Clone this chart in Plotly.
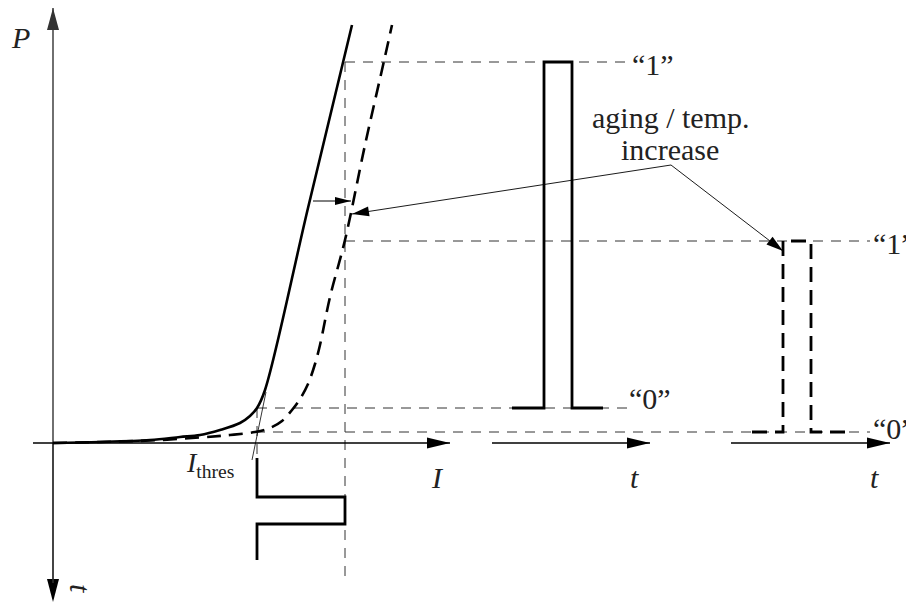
import numpy as np
import plotly.graph_objects as go

# ---- schematic values (1 unit = 1 px, origin at the P/I axis crossing) ----
# static P-I characteristic, new device (solid)
I_new = [0, 47, 97, 127, 147, 167, 187, 197, 204, 212, 255, 299]
P_new = [0, 1, 3, 6, 8, 13, 20, 27, 35, 53, 235, 418]
# P-I characteristic after aging / temperature increase (dashed)
I_aged = [0, 47, 97, 147, 177, 202, 217, 229, 239, 247, 255, 262, 267, 277, 292, 312, 331, 339]
P_aged = [0, 1, 2.5, 5.5, 8, 11, 15, 22, 33, 44, 59, 79, 98, 146, 203, 298, 382, 418]

I_thres = 204          # threshold current
I_op = 292             # modulation "1" current
P1_new, P0_new = 381, 35
P1_aged, P0_aged = 202, 11

# drive current pulse (time runs downward below the I axis)
pulse_I = [I_thres, I_thres, I_op, I_op, I_thres, I_thres]
pulse_t = [-15, -54, -54, -81, -81, -117]

# optical output pulses vs. time
t_new = [459, 491, 491, 519, 519, 550]
p_new = [P0_new, P0_new, P1_new, P1_new, P0_new, P0_new]
t_aged = [699, 730, 730, 758, 758, 792]
p_aged = [P0_aged, P0_aged, P1_aged, P1_aged, P0_aged, P0_aged]

# tangent of the lasing branch used to read the threshold
tan_I = [213, 199]
tan_P = [51, -17]

FONT = "Liberation Serif, Times New Roman, serif"
INK = "#000000"
GREY = "#333333"

fig = go.Figure()


def line(x, y, width=1.0, color=GREY, dash="solid", shape="linear"):
    fig.add_trace(go.Scatter(x=x, y=y, mode="lines", hoverinfo="skip",
                             line=dict(width=width, color=color, dash=dash, shape=shape)))


def head(tip, tail, length, half, color=INK):
    tip = np.array(tip, float)
    d = tip - np.array(tail, float)
    d /= np.hypot(*d)
    n = np.array([-d[1], d[0]])
    base = tip - d * length
    pts = [tip, base + n * half, base - n * half, tip]
    fig.add_trace(go.Scatter(x=[p[0] for p in pts], y=[p[1] for p in pts], mode="lines",
                             fill="toself", fillcolor=color, line=dict(width=0, color=color),
                             hoverinfo="skip"))


def arrow(tail, tip, width=1.0, length=16, half=4, color=INK):
    line([tail[0], tip[0]], [tail[1], tip[1]], width=width, color=color)
    head(tip, tail, length, half, color)


# guide lines
thin = "10px,8px"
line([I_op, 577], [P1_new, P1_new], dash=thin)
line([I_op, 817], [P1_aged, P1_aged], dash=thin)
line([I_thres, 575], [P0_new, P0_new], dash=thin)
line([I_thres - 2, 817], [P0_aged, P0_aged], dash=thin)
line([I_op, I_op], [P1_new, -137], dash=thin)
line([I_thres, I_thres], [P0_new, -17], dash=thin)

# axes
arrow((0, -137), (0, 435), width=1.4, length=22, half=6, color="#333333")
head((0, -159), (0, 0), 23, 6, color=INK)
line([0, 0], [0, -140], width=1.4, color="#333333")
arrow((-20, 0), (397, 0), width=1.4, length=23, half=5.5)
arrow((439, 0), (597, 0), width=1.4, length=23, half=5.5)
arrow((678, 0), (837, 0), width=1.4, length=23, half=5.5)

# characteristics
line(I_new, P_new, width=2.6, color=INK, shape="spline")
line(I_aged, P_aged, width=2.6, color=INK, dash="14px,8px", shape="spline")
line(tan_I, tan_P, width=0.8, color=INK)

# pulses
line(pulse_I, pulse_t, width=2.8, color=INK)
line(t_new, p_new, width=2.8, color=INK)
line(t_aged, p_aged, width=2.8, color=INK, dash="15px,8px")

# shift and aging arrows
arrow((260, 242), (298, 242), width=1.0, length=16, half=4)
arrow((618, 278), (299, 229), width=0.9, length=17, half=5)
arrow((618, 278), (730, 192), width=0.9, length=17, half=5)


# text
def text(x, y, s, size=30, italic=False, anchor="center", angle=0):
    fig.add_annotation(x=x, y=y, text=f"<i>{s}</i>" if italic else s, showarrow=False,
                       xanchor=anchor, yanchor="middle", textangle=angle,
                       font=dict(family=FONT, size=size, color="#222222"))


text(-33, 406, "P", italic=True)
text(384, -34, "I", italic=True)
text(581, -34, "t", italic=True)
text(821, -34, "t", italic=True)
text(28, -145, "t", italic=True, angle=90)
text(157, -21, "<i>I</i><sub>thres</sub>", size=28)
text(577, 379, "\u201c1\u201d", anchor="left")
text(818, 200, "\u201c1\u201d", anchor="left")
text(574, 45, "\u201c0\u201d", anchor="left")
text(818, 15, "\u201c0\u201d", anchor="left")
text(617, 326, "aging / temp.")
text(617, 294, "increase")

fig.update_layout(
    width=906, height=603, showlegend=False,
    margin=dict(l=0, r=0, t=0, b=0),
    paper_bgcolor="white", plot_bgcolor="white",
    xaxis=dict(range=[-53, 853], visible=False, fixedrange=True),
    yaxis=dict(range=[-160, 443], visible=False, fixedrange=True),
)

fig.write_html("out.html")
